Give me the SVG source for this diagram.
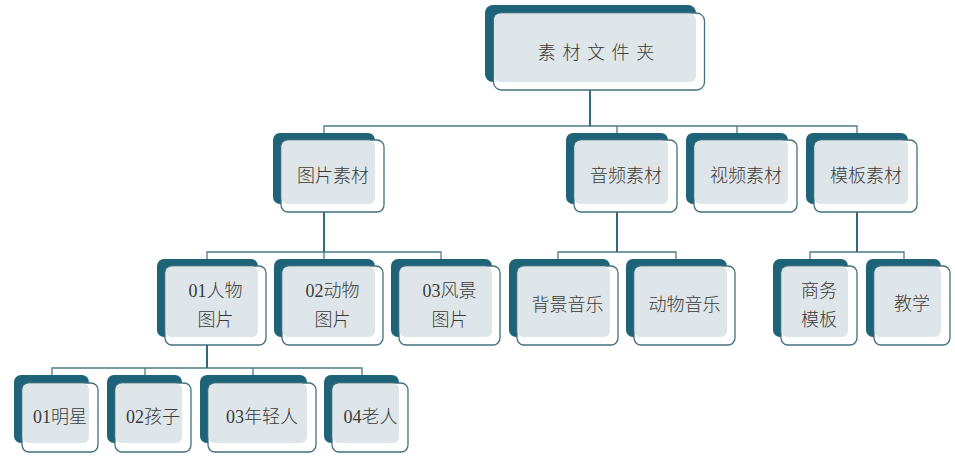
<svg xmlns="http://www.w3.org/2000/svg" width="955" height="459" viewBox="0 0 955 459">
<style>
.d{fill:#1f6378}
.o{fill:#fff;stroke:#41707f;stroke-width:1.3}
.l{fill:#dfe6e9}
text{font-family:"Liberation Serif","Noto Sans CJK SC",serif;font-size:18px;fill:#3a3a3a;text-anchor:middle;font-weight:300}
.c{fill:none;stroke:#4d7b89;stroke-width:1.3}
.s{fill:none;stroke:#2f6a7c;stroke-width:2}
</style>
<rect width="955" height="459" fill="#fff"/>
<g id="connectors">
<path class="c" d="M324 133V126H857V133M617 126V133M737 126V133"/>
<path class="s" d="M590 82V126"/>
<path class="c" d="M207 259V252H441V259M324 252V259"/>
<path class="s" d="M324 205V252"/>
<path class="c" d="M558 259V252H676V259"/>
<path class="s" d="M617 205V252"/>
<path class="c" d="M810 259V252H904V259"/>
<path class="s" d="M857 205V252"/>
<path class="c" d="M52 375V368H362V375M145 368V375M253 368V375"/>
<path class="s" d="M207 337V368"/>
</g>
<g id="root"><rect class="d" x="485" y="5" width="211" height="77" rx="8"/><rect class="o" x="493.500" y="13" width="211" height="77" rx="8"/><rect class="l" x="494" y="13.500" width="202" height="68.500" rx="6"/><text x="599.300" y="59" style="letter-spacing:6.600px">素材文件夹</text></g>
<g id="n-tupian"><rect class="d" x="273" y="133" width="102" height="71" rx="7"/><rect class="o" x="281" y="140" width="103" height="72" rx="7"/><rect class="l" x="281.500" y="140.500" width="93.500" height="63.500" rx="6"/><text x="333" y="182">图片素材</text></g>
<g id="n-yinpin"><rect class="d" x="566" y="133" width="102" height="71" rx="7"/><rect class="o" x="574" y="140" width="103" height="72" rx="7"/><rect class="l" x="574.500" y="140.500" width="93.500" height="63.500" rx="6"/><text x="626" y="182">音频素材</text></g>
<g id="n-shipin"><rect class="d" x="686" y="133" width="102" height="71" rx="7"/><rect class="o" x="694" y="140" width="103" height="72" rx="7"/><rect class="l" x="694.500" y="140.500" width="93.500" height="63.500" rx="6"/><text x="746" y="182">视频素材</text></g>
<g id="n-moban"><rect class="d" x="806" y="133" width="102" height="71" rx="7"/><rect class="o" x="814" y="140" width="103" height="72" rx="7"/><rect class="l" x="814.500" y="140.500" width="93.500" height="63.500" rx="6"/><text x="866" y="182">模板素材</text></g>
<g id="n-01renwu"><rect class="d" x="157" y="259" width="101" height="78" rx="7"/><rect class="o" x="165" y="266" width="101" height="79" rx="7"/><rect class="l" x="165.500" y="266.500" width="92.500" height="70.500" rx="6"/><text x="215.500" y="296.500">01人物</text><text x="215.500" y="326">图片</text></g>
<g id="n-02dongwu"><rect class="d" x="274" y="259" width="101" height="78" rx="7"/><rect class="o" x="282" y="266" width="101" height="79" rx="7"/><rect class="l" x="282.500" y="266.500" width="92.500" height="70.500" rx="6"/><text x="332.500" y="296.500">02动物</text><text x="332.500" y="326">图片</text></g>
<g id="n-03fengjing"><rect class="d" x="391" y="259" width="101" height="78" rx="7"/><rect class="o" x="399" y="266" width="101" height="79" rx="7"/><rect class="l" x="399.500" y="266.500" width="92.500" height="70.500" rx="6"/><text x="449.500" y="296.500">03风景</text><text x="449.500" y="326">图片</text></g>
<g id="n-beijing"><rect class="d" x="509" y="259" width="101" height="78" rx="7"/><rect class="o" x="517" y="266" width="101" height="79" rx="7"/><rect class="l" x="517.500" y="266.500" width="92.500" height="70.500" rx="6"/><text x="567.500" y="311">背景音乐</text></g>
<g id="n-dongwuyinyue"><rect class="d" x="626" y="259" width="101" height="78" rx="7"/><rect class="o" x="634" y="266" width="101" height="79" rx="7"/><rect class="l" x="634.500" y="266.500" width="92.500" height="70.500" rx="6"/><text x="684.500" y="311">动物音乐</text></g>
<g id="n-shangwu"><rect class="d" x="773" y="259" width="75" height="78" rx="7"/><rect class="o" x="781" y="266" width="76" height="79" rx="7"/><rect class="l" x="781.500" y="266.500" width="66.500" height="70.500" rx="6"/><text x="819" y="296.500">商务</text><text x="819" y="326">模板</text></g>
<g id="n-jiaoxue"><rect class="d" x="866" y="259" width="75" height="78" rx="7"/><rect class="o" x="874" y="266" width="76" height="79" rx="7"/><rect class="l" x="874.500" y="266.500" width="66.500" height="70.500" rx="6"/><text x="912" y="310">教学</text></g>
<g id="n-mingxing"><rect class="d" x="14" y="375" width="75" height="68" rx="7"/><rect class="o" x="22" y="383" width="76" height="69" rx="7"/><rect class="l" x="22.500" y="383.500" width="66.500" height="59.500" rx="6"/><text x="60" y="423">01明星</text></g>
<g id="n-haizi"><rect class="d" x="107" y="375" width="75" height="68" rx="7"/><rect class="o" x="115" y="383" width="76" height="69" rx="7"/><rect class="l" x="115.500" y="383.500" width="66.500" height="59.500" rx="6"/><text x="153" y="423">02孩子</text></g>
<g id="n-nianqing"><rect class="d" x="200" y="375" width="107" height="68" rx="7"/><rect class="o" x="208" y="383" width="108" height="69" rx="7"/><rect class="l" x="208.500" y="383.500" width="98.500" height="59.500" rx="6"/><text x="262" y="423">03年轻人</text></g>
<g id="n-laoren"><rect class="d" x="324" y="375" width="75" height="68" rx="7"/><rect class="o" x="332" y="383" width="76" height="69" rx="7"/><rect class="l" x="332.500" y="383.500" width="66.500" height="59.500" rx="6"/><text x="370.500" y="423">04老人</text></g>
</svg>
